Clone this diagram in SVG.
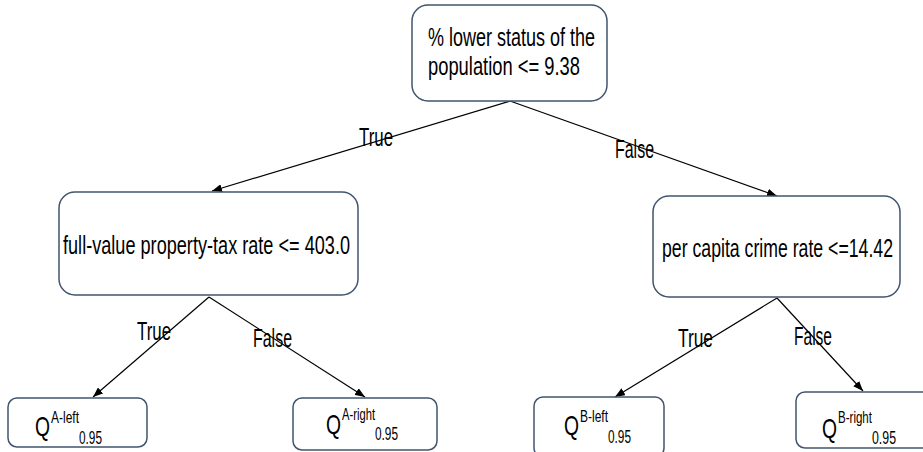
<svg xmlns="http://www.w3.org/2000/svg" width="923" height="452" viewBox="0 0 923 452">
  <style>
    .box { fill: #ffffff; stroke: #41546e; stroke-width: 1.5; }
    .edge { stroke: #000000; stroke-width: 1.2; fill: none; marker-end: url(#arrow); }
    text { font-family: "Liberation Sans Narrow", "Liberation Sans", Arial, sans-serif; fill: #000000; }
    .t { font-size: 26px; }
    .q { font-size: 28px; }
    .sup { font-size: 17px; }
    .sub { font-size: 19px; }
  </style>
  <defs>
    <marker id="arrow" markerUnits="userSpaceOnUse" markerWidth="10" markerHeight="8" refX="10" refY="4" orient="auto">
      <path d="M0,0 L10,4 L0,8 z" fill="#000000"/>
    </marker>
  </defs>
  <rect width="923" height="452" fill="#ffffff"/>

  <g id="connectors">
    <line class="edge" x1="510" y1="101" x2="212" y2="191"/>
    <line class="edge" x1="510" y1="101" x2="777" y2="196"/>
    <line class="edge" x1="209" y1="297" x2="93" y2="397"/>
    <line class="edge" x1="209" y1="297" x2="365" y2="397"/>
    <line class="edge" x1="777" y1="298" x2="615" y2="397"/>
    <line class="edge" x1="777" y1="298" x2="863" y2="391"/>
    <text class="t" x="359" y="146" textLength="34" lengthAdjust="spacingAndGlyphs">True</text>
    <text class="t" x="615" y="158" textLength="39" lengthAdjust="spacingAndGlyphs">False</text>
    <text class="t" x="137" y="340" textLength="34" lengthAdjust="spacingAndGlyphs">True</text>
    <text class="t" x="253" y="347" textLength="39" lengthAdjust="spacingAndGlyphs">False</text>
    <text class="t" x="678" y="347" textLength="35" lengthAdjust="spacingAndGlyphs">True</text>
    <text class="t" x="794" y="345" textLength="38" lengthAdjust="spacingAndGlyphs">False</text>
  </g>

  <g id="root">
    <rect class="box" x="412" y="5" width="195" height="96" rx="16"/>
    <text class="t" x="428" y="46" textLength="167" lengthAdjust="spacingAndGlyphs">% lower status of the</text>
    <text class="t" x="428" y="75" textLength="152" lengthAdjust="spacingAndGlyphs">population &lt;= 9.38</text>
  </g>

  <g id="nodeA">
    <rect class="box" x="59" y="192" width="299" height="103" rx="16"/>
    <text class="t" x="63" y="254" textLength="287" lengthAdjust="spacingAndGlyphs">full-value property-tax rate &lt;= 403.0</text>
  </g>

  <g id="nodeB">
    <rect class="box" x="653" y="196" width="247" height="101" rx="16"/>
    <text class="t" x="662" y="257" textLength="231" lengthAdjust="spacingAndGlyphs">per capita crime rate &lt;=14.42</text>
  </g>

  <g id="leafAleft">
    <rect class="box" x="8" y="398" width="139" height="49" rx="9"/>
    <text><tspan class="q" x="35" y="436" textLength="15" lengthAdjust="spacingAndGlyphs">Q</tspan><tspan class="sup" x="51" y="423" textLength="28" lengthAdjust="spacingAndGlyphs">A-left</tspan><tspan class="sub" x="79" y="444" textLength="23" lengthAdjust="spacingAndGlyphs">0.95</tspan></text>
  </g>

  <g id="leafAright">
    <rect class="box" x="293" y="398" width="144" height="52" rx="9"/>
    <text><tspan class="q" x="326" y="434" textLength="15" lengthAdjust="spacingAndGlyphs">Q</tspan><tspan class="sup" x="342" y="420" textLength="33" lengthAdjust="spacingAndGlyphs">A-right</tspan><tspan class="sub" x="375" y="440" textLength="23" lengthAdjust="spacingAndGlyphs">0.95</tspan></text>
  </g>

  <g id="leafBleft">
    <rect class="box" x="534" y="397" width="130" height="60" rx="9"/>
    <text><tspan class="q" x="564" y="435" textLength="15" lengthAdjust="spacingAndGlyphs">Q</tspan><tspan class="sup" x="580" y="422" textLength="28" lengthAdjust="spacingAndGlyphs">B-left</tspan><tspan class="sub" x="608" y="443" textLength="23" lengthAdjust="spacingAndGlyphs">0.95</tspan></text>
  </g>

  <g id="leafBright">
    <rect class="box" x="796" y="392" width="140" height="56" rx="9"/>
    <text><tspan class="q" x="822" y="438" textLength="15" lengthAdjust="spacingAndGlyphs">Q</tspan><tspan class="sup" x="838" y="423" textLength="34" lengthAdjust="spacingAndGlyphs">B-right</tspan><tspan class="sub" x="872" y="444" textLength="24" lengthAdjust="spacingAndGlyphs">0.95</tspan></text>
  </g>
</svg>
